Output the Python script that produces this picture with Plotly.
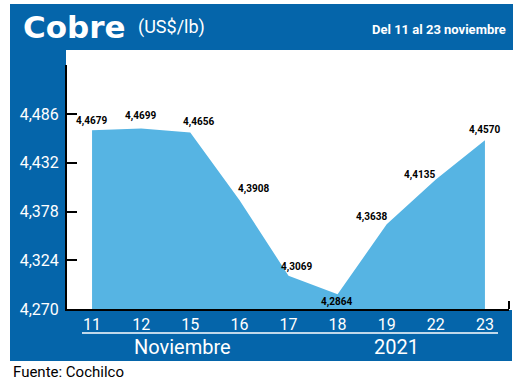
import plotly.graph_objects as go

# ---- data ----
days = ["11", "12", "15", "16", "17", "18", "19", "22", "23"]
prices = [4.4679, 4.4699, 4.4656, 4.3908, 4.3069, 4.2864, 4.3638, 4.4135, 4.4570]
price_labels = ["4,4679", "4,4699", "4,4656", "4,3908", "4,3069", "4,2864", "4,3638", "4,4135", "4,4570"]
ytick_vals = [4.270, 4.324, 4.378, 4.432, 4.486]
ytick_text = ["4,270", "4,324", "4,378", "4,432", "4,486"]

# label offsets (pixels) – styling only
label_dx = [-1, -1, 8, 14, 8, -1, -15, -16, 0]
label_dy = [9, 13, 10, 11, 9, -8, 7, 4, 10]

W, H = 520, 387
BLUE = "#0565AA"
FILL = "#56B4E3"


def px(x):
    return x / W


def py(y):
    return 1 - y / H


fig = go.Figure()
fig.add_trace(go.Scatter(
    x=days, y=prices, mode="lines", fill="tozeroy",
    fillcolor=FILL, line=dict(width=0, color=FILL), hoverinfo="skip",
))

shapes = [
    dict(type="rect", xref="paper", yref="paper", x0=px(10), x1=px(513), y0=py(50), y1=py(4),
         fillcolor=BLUE, line=dict(width=0), layer="below"),
    dict(type="rect", xref="paper", yref="paper", x0=px(10), x1=px(66), y0=py(361), y1=py(50),
         fillcolor=BLUE, line=dict(width=0), layer="below"),
    dict(type="rect", xref="paper", yref="paper", x0=px(10), x1=px(512), y0=py(361), y1=py(310),
         fillcolor=BLUE, line=dict(width=0), layer="below"),
    dict(type="line", xref="paper", yref="paper", x0=px(82), x1=px(498), y0=py(333), y1=py(333),
         line=dict(color="white", width=1.5)),
    dict(type="line", xref="paper", yref="paper", x0=px(509), x1=px(509), y0=py(309), y1=py(301),
         line=dict(color="black", width=2)),
]

annotations = []
for i, (v, t, dx, dy) in enumerate(zip(prices, price_labels, label_dx, label_dy)):
    annotations.append(dict(
        x=i, y=v, xref="x", yref="y", text="<b>" + t + "</b>", showarrow=False,
        xshift=dx, yshift=dy, xanchor="center", yanchor="middle",
        font=dict(family="Roboto", size=10, color="black"),
    ))

annotations += [
    dict(xref="paper", yref="paper", x=px(21), y=py(27), xanchor="left", yanchor="middle",
         text="<b>Cobre</b>", showarrow=False,
         font=dict(family="DejaVu Sans", size=31, color="white")),
    dict(xref="paper", yref="paper", x=px(136), y=py(27), xanchor="left", yanchor="middle",
         text="(US$/lb)", showarrow=False,
         font=dict(family="Roboto", size=18, color="white")),
    dict(xref="paper", yref="paper", x=px(508), y=py(29), xanchor="right", yanchor="middle",
         text="<b>Del 11 al 23 noviembre</b>", showarrow=False,
         font=dict(family="Roboto", size=13, color="white")),
    dict(xref="paper", yref="paper", x=px(182), y=py(347), xanchor="center", yanchor="middle",
         text="Noviembre", showarrow=False,
         font=dict(family="Roboto", size=20, color="white")),
    dict(xref="paper", yref="paper", x=px(396), y=py(347), xanchor="center", yanchor="middle",
         text="2021", showarrow=False,
         font=dict(family="Roboto", size=20, color="white")),
    dict(xref="paper", yref="paper", x=px(11), y=py(372), xanchor="left", yanchor="middle",
         text="Fuente: Cochilco", showarrow=False,
         font=dict(family="Roboto", size=15, color="black")),
]

fig.update_layout(
    width=W, height=H,
    margin=dict(l=0, r=0, t=0, b=0, pad=0, autoexpand=False),
    paper_bgcolor="white", plot_bgcolor="white",
    showlegend=False,
    shapes=shapes, annotations=annotations,
    xaxis=dict(
        type="category", domain=[px(67), px(509)], range=[-0.51, 8.49],
        showgrid=False, zeroline=False, showline=True, linecolor="black", linewidth=2,
        ticks="", tickfont=dict(family="Roboto", size=16, color="white"),
        ticklabelstandoff=0,
    ),
    yaxis=dict(
        domain=[py(309), py(65)], range=[4.270, 4.5403],
        tickvals=ytick_vals, ticktext=ytick_text,
        showgrid=False, zeroline=False, showline=True, linecolor="black", linewidth=2,
        ticks="inside", ticklen=10, tickwidth=2, tickcolor="black",
        tickfont=dict(family="Roboto", size=16, color="white"),
        ticklabelstandoff=3,
    ),
)

fig.write_html(
    "out.html",
    config={"displayModeBar": False},
    post_script="document.body.style.margin='0';document.body.style.padding='0';document.body.style.overflow='hidden';",
)
